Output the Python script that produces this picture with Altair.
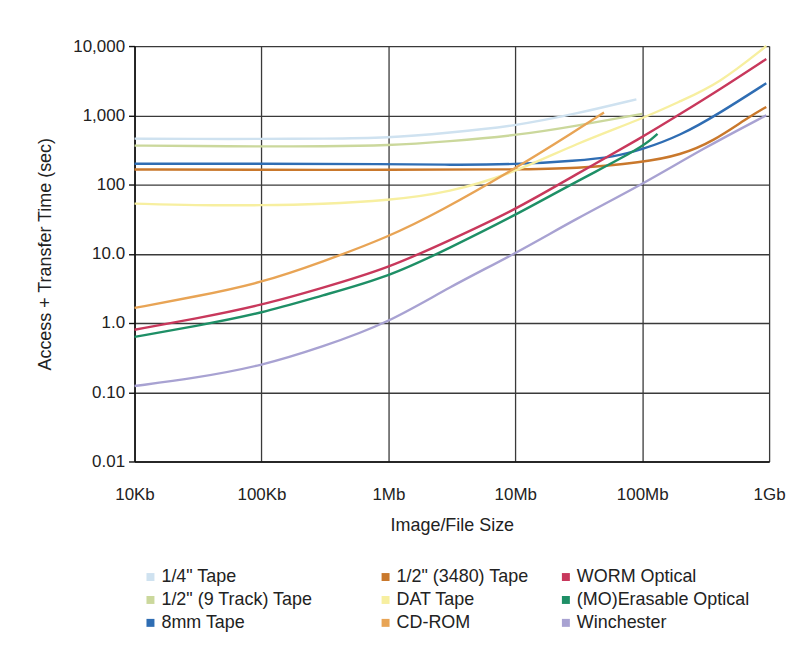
import altair as alt
import pandas as pd

FONT = "Liberation Sans, Arial, Helvetica, sans-serif"

# x values in Kb, y values in seconds
QTR_X = [10, 30, 100, 300, 1000, 3000, 10000, 30000, 90000]
QTR_Y = [460, 455, 455, 460, 470, 560, 700, 1050, 1700]

NINE_X = [10, 30, 100, 300, 1000, 3000, 10000, 30000, 100000]
NINE_Y = [365, 360, 355, 355, 365, 420, 510, 700, 1050]

EIGHT_X = [10, 100, 1000, 3000, 10000, 30000, 60000, 100000, 200000, 400000, 950000]
EIGHT_Y = [200, 200, 198, 192, 195, 220, 250, 320, 510, 1050, 2900]

T3480_X = [10, 100, 1000, 10000, 30000, 100000, 200000, 370000, 670000, 950000]
T3480_Y = [165, 163, 163, 165, 170, 208, 265, 430, 910, 1320]

DAT_X = [10, 30, 100, 300, 1000, 3000, 10000, 30000, 100000, 200000, 400000, 950000]
DAT_Y = [53, 50, 50, 52, 59, 76, 150, 390, 890, 1600, 2850, 10000]

CD_X = [10, 30, 100, 300, 1000, 2500, 10000, 30000, 50000]
CD_Y = [1.65, 2.4, 3.8, 7.6, 17.5, 40, 170, 600, 1100]

WORM_X = [10, 30, 100, 300, 1000, 3000, 10000, 30000, 100000, 200000, 400000, 950000]
WORM_Y = [0.8, 1.15, 1.8, 3.2, 6.2, 15.5, 43, 140, 480, 1050, 2300, 6500]

ERASE_X = [10, 30, 100, 300, 1000, 3000, 10000, 30000, 100000, 132000]
ERASE_Y = [0.63, 0.9, 1.38, 2.5, 4.6, 12, 36, 110, 340, 540]

WIN_X = [10, 30, 100, 300, 1000, 3000, 10000, 30000, 100000, 300000, 950000]
WIN_Y = [0.123, 0.16, 0.24, 0.45, 1.0, 3.3, 10, 32, 100, 330, 1000]

NAMES = [
    '1/4" Tape', '1/2" (9 Track) Tape', '8mm Tape',
    '1/2" (3480) Tape', 'DAT Tape', 'CD-ROM',
    'WORM Optical', '(MO)Erasable Optical', 'Winchester',
]
COLORS = [
    "#cfe2f0", "#cbd89c", "#2f6db3",
    "#c9782c", "#f7efa0", "#e8a455",
    "#c8385c", "#1e8f66", "#a8a2d2",
]

X_TICKS = [10, 100, 1000, 10000, 100000, 1000000]
X_LABELS = ["10Kb", "100Kb", "1Mb", "10Mb", "100Mb", "1Gb"]
Y_TICKS = [0.01, 0.1, 1, 10, 100, 1000, 10000]
Y_LABELS = ["0.01", "0.10", "1.0", "10.0", "100", "1,000", "10,000"]

SERIES_XY = [
    (QTR_X, QTR_Y), (NINE_X, NINE_Y), (EIGHT_X, EIGHT_Y),
    (T3480_X, T3480_Y), (DAT_X, DAT_Y), (CD_X, CD_Y),
    (WORM_X, WORM_Y), (ERASE_X, ERASE_Y), (WIN_X, WIN_Y),
]

rows = []
for name, (xs, ys) in zip(NAMES, SERIES_XY):
    for x, y in zip(xs, ys):
        rows.append({"series": name, "size": x, "time": y})
df = pd.DataFrame(rows)


def label_expr(ticks, labels):
    expr = "'" + labels[-1] + "'"
    for t, lab in reversed(list(zip(ticks[:-1], labels[:-1]))):
        expr = f"datum.value < {t * 3} ? '{lab}' : " + expr
    return expr


x_enc = alt.X(
    "size:Q",
    scale=alt.Scale(type="log", domain=[10, 1000000]),
    axis=alt.Axis(
        values=X_TICKS, labelExpr=label_expr(X_TICKS, X_LABELS),
        title="Image/File Size", grid=True, ticks=False, tickSize=0,
        labelPadding=25, titlePadding=14, labelFlush=False,
    ),
)
y_enc = alt.Y(
    "time:Q",
    scale=alt.Scale(type="log", domain=[0.01, 10000]),
    axis=alt.Axis(
        values=Y_TICKS, labelExpr=label_expr(Y_TICKS, Y_LABELS),
        title="Access + Transfer Time (sec)", grid=True, ticks=True,
        tickSize=6, labelPadding=4, titlePadding=18,
    ),
)

LEGEND_X = [7, 243, 424]
layers = []
for g in range(3):
    names = NAMES[g * 3:(g + 1) * 3]
    cols = COLORS[g * 3:(g + 1) * 3]
    layer = (
        alt.Chart(df)
        .transform_filter(alt.FieldOneOfPredicate(field="series", oneOf=names))
        .mark_line(strokeWidth=2.4, interpolate="basis")
        .encode(
            x=x_enc,
            y=y_enc,
            color=alt.Color(
                "series:N",
                scale=alt.Scale(domain=names, range=cols),
                legend=alt.Legend(
                    title=None, orient="none", legendX=LEGEND_X[g], legendY=524,
                    direction="vertical", symbolType="square", symbolSize=16,
                    symbolStrokeWidth=4, labelFontSize=18, labelFont=FONT,
                    labelColor="#222222", rowPadding=3, labelOffset=2, padding=0,
                    labelLimit=400,
                ),
            ),
        )
    )
    layers.append(layer)

chart = (
    alt.layer(*layers)
    .resolve_scale(color="independent")
    .properties(
        width=637, height=417,
        padding={"left": 127, "top": 37, "right": 30, "bottom": 180},
        autosize=alt.AutoSizeParams(type="none"),
        background="white",
    )
    .configure_view(stroke=None)
    .configure_axis(
        gridColor="#3a3a3a", gridWidth=1.3, gridOpacity=1,
        domainColor="#111111", domainWidth=1.6,
        tickColor="#111111", tickWidth=1.4,
        labelFont=FONT, labelFontSize=17, labelColor="#222222",
        titleFont=FONT, titleFontSize=18, titleColor="#222222", titleFontWeight="normal",
    )
)

chart.save("out.html", embed_options={"renderer": "svg", "actions": False})
